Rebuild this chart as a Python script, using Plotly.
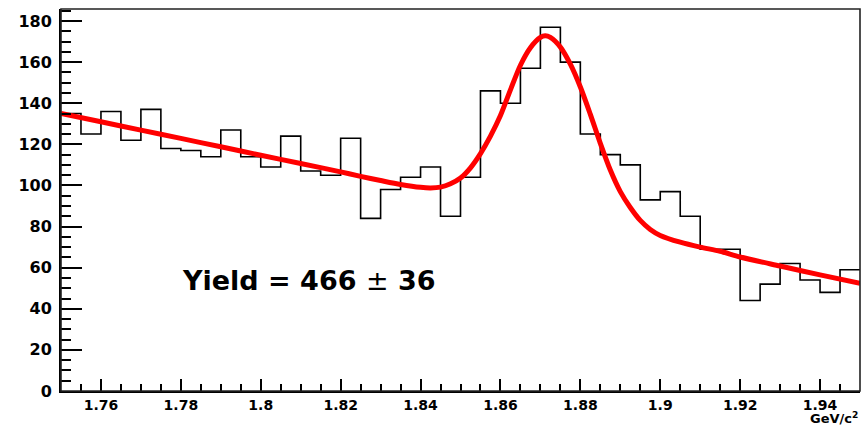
import numpy as np
import plotly.graph_objects as go

# ---- data ----
bin_low = 1.75
bin_width = 0.005
counts = [135, 125, 136, 122, 137, 118, 117, 114, 127, 114,
          109, 124, 107, 105, 123, 84, 98, 104, 109, 85,
          104, 146, 140, 157, 177, 160, 125, 115, 110, 93,
          97, 85, 69, 69, 44, 52, 62, 54, 48, 59]

fit_x = [1.750, 1.760, 1.770, 1.780, 1.790, 1.800, 1.810, 1.820, 1.825, 1.830,
         1.835, 1.840, 1.8425, 1.845, 1.8475, 1.850, 1.8525, 1.855, 1.8575, 1.860,
         1.8625, 1.865, 1.8675, 1.870, 1.8712, 1.8725, 1.875, 1.8775, 1.880, 1.8825,
         1.885, 1.8875, 1.890, 1.8925, 1.895, 1.8975, 1.900, 1.905, 1.910, 1.915,
         1.920, 1.930, 1.940, 1.950]
fit_y = [135.0, 131.0, 126.9, 122.9, 118.8, 114.7, 110.7, 106.6, 104.4, 102.4,
         100.5, 99.1, 98.8, 99.2, 100.8, 103.6, 108.6, 115.5, 124.0, 134.0,
         146.5, 158.5, 167.0, 172.0, 172.8, 172.0, 167.3, 159.0, 147.9, 134.6,
         120.5, 107.5, 97.0, 89.3, 83.0, 78.6, 75.7, 72.4, 70.0, 68.0,
         65.2, 60.8, 56.5, 52.4]

y_tick_vals = [0, 20, 40, 60, 80, 100, 120, 140, 160, 180]
x_tick_vals = [1.76, 1.78, 1.80, 1.82, 1.84, 1.86, 1.88, 1.90, 1.92, 1.94]
x_tick_text = ["1.76", "1.78", "1.8", "1.82", "1.84", "1.86", "1.88", "1.9", "1.92", "1.94"]

yield_text = "<b>Yield = 466 </b>±<b> 36</b>"
x_title = "<b>GeV/c<sup>2</sup></b>"

# ---- build ----
n = len(counts)
edges = [round(bin_low + i * bin_width, 4) for i in range(n + 1)]
step_y = counts + [counts[-1]]

FONT = "DejaVu Sans"

fig = go.Figure()
fig.add_trace(go.Scatter(x=edges, y=step_y, mode="lines", line_shape="hv",
                         line=dict(color="black", width=1.6), hoverinfo="skip",
                         showlegend=False))
fig.add_trace(go.Scatter(x=fit_x, y=fit_y, mode="lines", line_shape="spline",
                         line=dict(color="#ff0000", width=5, smoothing=0.8),
                         showlegend=False))

ymax = 1.05 * max(counts)

fig.update_layout(
    width=863, height=425,
    margin=dict(l=61, r=3, t=9, b=34),
    paper_bgcolor="white", plot_bgcolor="white",
    font=dict(family=FONT, color="black"),
    xaxis=dict(range=[bin_low, bin_low + n * bin_width],
               showgrid=False, zeroline=False,
               showline=True, linecolor="black", linewidth=2,
               ticks="inside", ticklen=12, tickwidth=2, tickcolor="black",
               tickvals=x_tick_vals, ticktext=x_tick_text,
               tickfont=dict(family=FONT, size=14, weight="bold"),
               minor=dict(ticks="inside", ticklen=7, tickwidth=1.5, tickcolor="black",
                          tick0=bin_low, dtick=bin_width, showgrid=False)),
    yaxis=dict(range=[0, ymax],
               showgrid=False, zeroline=False,
               showline=True, linecolor="black", linewidth=2,
               ticks="inside", ticklen=21, tickwidth=2, tickcolor="black",
               tickvals=y_tick_vals,
               tickfont=dict(family=FONT, size=16, weight="bold"),
               ticklabelstandoff=4,
               minor=dict(ticks="inside", ticklen=10, tickwidth=1.5, tickcolor="black",
                          tick0=0, dtick=5, showgrid=False)),
    shapes=[dict(type="rect", xref="paper", yref="paper", x0=0, x1=1, y0=0, y1=1,
                 line=dict(color="#222", width=1.6), layer="above")],
    annotations=[
        dict(text=yield_text, x=1.7799, y=53.8, xref="x", yref="y",
             xanchor="left", yanchor="middle", showarrow=False,
             font=dict(family=FONT, size=27, color="black")),
        dict(text=x_title, x=1.0, y=-0.0885, xref="paper", yref="paper",
             xanchor="right", yanchor="bottom", showarrow=False,
             xshift=0, yshift=-3,
             font=dict(family=FONT, size=13, color="black")),
    ],
)

fig.write_html("out.html")
